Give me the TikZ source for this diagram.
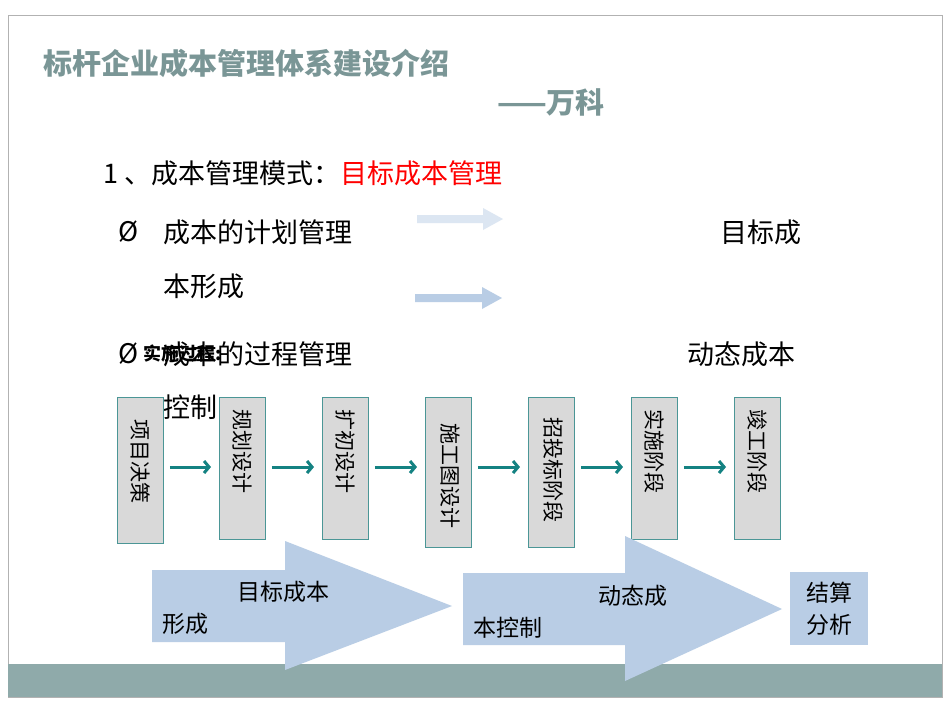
\documentclass[tikz,border=0pt]{standalone}
\usepackage{fontspec}
\usetikzlibrary{arrows.meta}
\setmainfont{Liberation Sans}
\newfontfamily\cjk{Noto Sans CJK SC}
\definecolor{ttl}{RGB}{122,150,150}
\definecolor{band}{RGB}{143,170,170}
\definecolor{bigc}{RGB}{185,205,229}
\definecolor{pale}{RGB}{220,230,242}
\definecolor{edge}{RGB}{75,150,150}
\definecolor{flowc}{RGB}{20,130,130}
\begin{document}
\begin{tikzpicture}[x=1pt,y=-1pt,
  txt/.style={font=\cjk\fontsize{27}{30}\selectfont,anchor=west,inner sep=0},
  stage/.style={draw=edge,fill=gray!30,line width=0.8pt,minimum width=46pt,anchor=north west},
  vtxt/.style={font=\cjk\fontsize{21}{22}\selectfont,rotate=-90,align=center,inner sep=0},
  flow/.style={draw=flowc,line width=3pt,-{Straight Barb[length=5pt,width=12pt]}},
  big/.style={fill=bigc,draw=none},
  btxt/.style={font=\cjk\fontsize{23}{26}\selectfont,anchor=west,inner sep=0}]
\useasboundingbox (0,0) rectangle (950,713);
\fill[white] (0,0) rectangle (950,713);
\draw[gray!60,line width=0.6pt] (8,15) rectangle (942,697);
\fill[band] (8,664) rectangle (942,697);
% title
\node[font=\cjk\bfseries\fontsize{29}{30}\selectfont,text=ttl,anchor=west,inner sep=0] (t1) at (43,63) {标杆企业成本管理体系建设介绍};
\node[font=\cjk\bfseries\fontsize{29}{30}\selectfont,text=ttl,anchor=west,inner sep=0] (t2) at (497,102) {——万科};
% text
\node[txt] (l1) at (103,173) {1 、成本管理模式：\textcolor{red}{目标成本管理}};
\node[txt] (b1) at (118,232) {Ø};
\node[txt] (l2) at (163,232) {成本的计划管理};
\node[txt] (l2b) at (720,232) {目标成};
\node[txt] (l3) at (163,286) {本形成};
\node[txt] (b2) at (118,354) {Ø};
\node[txt] (l4) at (163,354) {成本的过程管理};
\node[font=\cjk\bfseries\fontsize{18}{20}\selectfont,anchor=west,inner sep=0] (ss) at (143,354) {实施过程:};
\node[txt] (l4b) at (687,354) {动态成本};
\node[txt] (l5) at (163,407) {控制};
\fill[pale] (417,215) -- (483,215) -- (483,208) -- (503,219) -- (483,230) -- (483,223) -- (417,223) -- cycle;
\fill[bigc] (415,294) -- (482,294) -- (482,287) -- (502,298) -- (482,309) -- (482,302) -- (415,302) -- cycle;
% stages
\node[stage,minimum height=146pt] (s1) at (117,397) {};
\node[stage,minimum height=142pt] (s2) at (219,397) {};
\node[stage,minimum height=142pt] (s3) at (322,397) {};
\node[stage,minimum height=150pt] (s4) at (425,397) {};
\node[stage,minimum height=150pt] (s5) at (528,397) {};
\node[stage,minimum height=142pt] (s6) at (631,397) {};
\node[stage,minimum height=142pt] (s7) at (734,397) {};
\node[vtxt,anchor=west] at ([yshift=-22pt]s1.north) {项目决策};
\node[vtxt,anchor=west] at ([yshift=-12pt]s2.north) {规划设计};
\node[vtxt,anchor=west] at ([yshift=-12pt]s3.north) {扩初设计};
\node[vtxt,anchor=north west,text width=96pt,align=left] at ([xshift=12pt,yshift=-26pt]s4.north) {施工图设计};
\node[vtxt,anchor=north west,text width=96pt,align=left] at ([xshift=12pt,yshift=-20pt]s5.north) {招投标阶段};
\node[vtxt,anchor=west] at ([yshift=-12pt]s6.north) {实施阶段};
\node[vtxt,anchor=west] at ([yshift=-12pt]s7.north) {竣工阶段};
\foreach \a/\b in {s1/s2,s2/s3,s3/s4,s4/s5,s5/s6,s6/s7}
  \draw[flow] ([xshift=6pt]\a.east |- 0,467) -- ([xshift=-8pt]\b.west |- 0,467);
% big arrows
\fill[big] (152,570) -- (285,570) -- (285,541) -- (452,606) -- (285,670) -- (285,642) -- (152,642) -- cycle;
\fill[big] (463,573) -- (625,573) -- (625,536) -- (782,609) -- (625,681) -- (625,645) -- (463,645) -- cycle;
\node[big,minimum width=78pt,minimum height=73pt,anchor=north west] (ja) at (790,572) {};
\node[btxt] (a1) at (237,592) {目标成本};
\node[btxt] (a2) at (162,624) {形成};
\node[btxt] (a3) at (598,596) {动态成};
\node[btxt] (a4) at (473,628) {本控制};
\node[btxt,anchor=center,align=center,font=\cjk\fontsize{23}{32}\selectfont] at (ja) {结算\\分析};
\end{tikzpicture}
\end{document}
